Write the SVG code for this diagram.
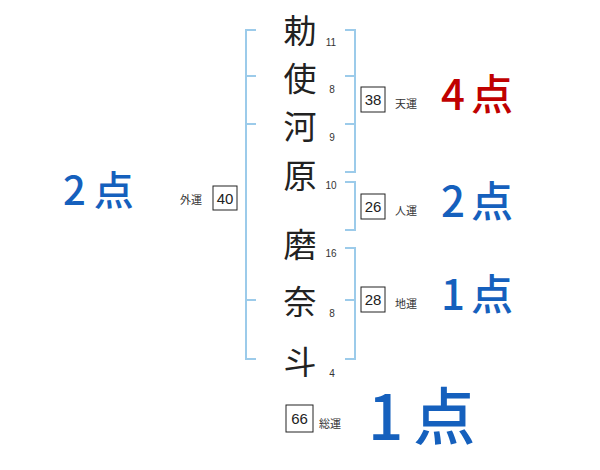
<svg xmlns="http://www.w3.org/2000/svg" width="600" height="470" viewBox="0 0 600 470">
<style>
.br{fill:none;stroke:#9ccbea;stroke-width:2}
.ch{font-family:"Noto Sans CJK JP","Noto Sans",sans-serif;font-size:33px;fill:#222;text-anchor:middle}
.st{font-family:"Liberation Sans",sans-serif;font-size:10px;fill:#333;text-anchor:middle}
.bx{fill:#fff;stroke:#222;stroke-width:1}
.bn{font-family:"Liberation Sans",sans-serif;font-size:15px;fill:#222;text-anchor:middle}
.lb{font-family:"Noto Sans CJK JP",sans-serif;font-size:11px;fill:#333}
.pt{font-family:"Noto Sans CJK JP","Liberation Sans",sans-serif;font-weight:500}
</style>
<rect width="600" height="470" fill="#fff"/>
<g id="connectors">
<path class="br" d="M256,30 H246 V359 H256 M246,76 H256 M246,124 H256 M246,300 H256"/>
<path class="br" d="M345,30 H355 V172 H345 M345,76 H355 M345,124 H355"/>
<path class="br" d="M345,182 H355 V230 H345"/>
<path class="br" d="M345,248 H355 V359 H345 M345,300 H355"/>
</g>
<g id="name">
<text class="ch" x="300" y="43">勅</text>
<text class="ch" x="300" y="91">使</text>
<text class="ch" x="300" y="139">河</text>
<text class="ch" x="300" y="188">原</text>
<text class="ch" x="300" y="257">磨</text>
<text class="ch" x="300" y="314">奈</text>
<text class="ch" x="300" y="374">斗</text>
</g>
<g id="strokes">
<text class="st" x="331" y="46">11</text>
<text class="st" x="332" y="93">8</text>
<text class="st" x="332" y="141">9</text>
<text class="st" x="331" y="189">10</text>
<text class="st" x="331" y="257">16</text>
<text class="st" x="332" y="317">8</text>
<text class="st" x="332" y="377">4</text>
</g>
<g id="tenun">
<rect class="bx" x="361" y="87" width="24" height="25"/>
<text class="bn" x="373" y="105">38</text>
<text class="lb" x="395" y="108">天運</text>
<text class="pt" x="441" y="110" font-size="42" letter-spacing="6" fill="#c00000">4点</text>
</g>
<g id="jinun">
<rect class="bx" x="361" y="194" width="24" height="25"/>
<text class="bn" x="373" y="212">26</text>
<text class="lb" x="395" y="215">人運</text>
<text class="pt" x="441" y="217" font-size="42" letter-spacing="6" fill="#1560bd">2点</text>
</g>
<g id="chiun">
<rect class="bx" x="361" y="287" width="24" height="25"/>
<text class="bn" x="373" y="305">28</text>
<text class="lb" x="395" y="308">地運</text>
<text class="pt" x="441" y="310" font-size="42" letter-spacing="6" fill="#1560bd">1点</text>
</g>
<g id="gaiun">
<rect class="bx" x="213" y="186" width="24" height="24"/>
<text class="bn" x="225" y="204">40</text>
<text class="lb" x="180" y="204">外運</text>
<text class="pt" x="63" y="205" font-size="40" letter-spacing="8" fill="#1560bd">2点</text>
</g>
<g id="soun">
<rect class="bx" x="286" y="405" width="27" height="27"/>
<text class="bn" x="299.5" y="424">66</text>
<text class="lb" x="319" y="428">総運</text>
<text class="pt" x="368" y="440" font-size="62" letter-spacing="10" fill="#1560bd">1点</text>
</g>
</svg>
